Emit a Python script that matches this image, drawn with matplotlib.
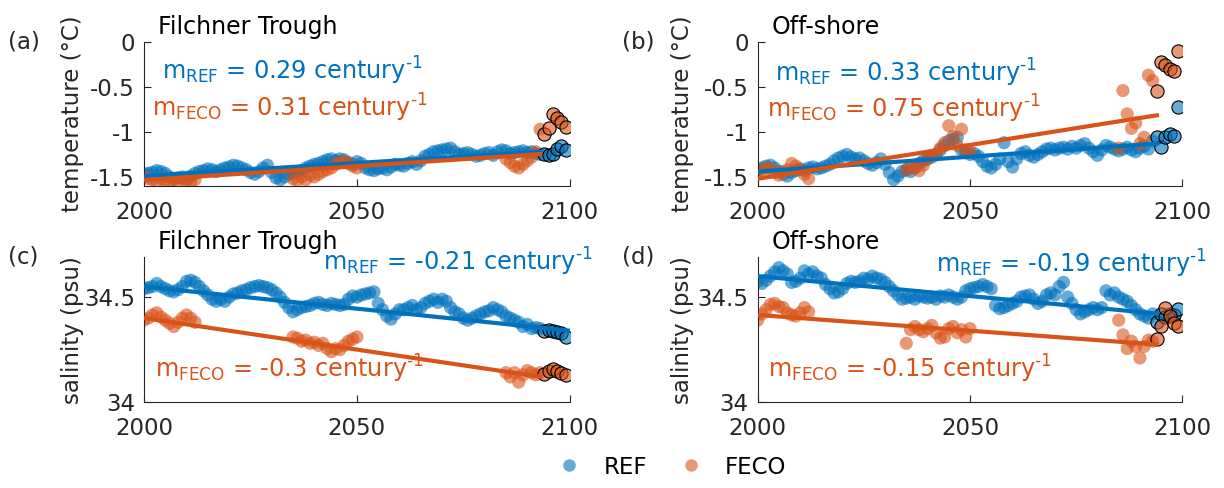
import numpy as np
import matplotlib
matplotlib.use("Agg")
import matplotlib.pyplot as plt

plt.rcParams['font.family'] = 'DejaVu Sans'
plt.rcParams['axes.unicode_minus'] = False
plt.rcParams['mathtext.fontset'] = 'dejavusans'

BLUE = '#0072BD'
ORANGE = '#D95319'
INK = '#262626'

years = np.arange(2000, 2100)
feco_years = np.concatenate([np.arange(2000, 2013), np.arange(2035, 2051), np.arange(2085, 2100)])
last_start = 2094  # last years drawn with black edge

# (a) Filchner Trough temperature
ref_temp_ft = [
    -1.47, -1.46, -1.45, -1.43, -1.44, -1.46, -1.50, -1.52, -1.51, -1.50,
    -1.52, -1.49, -1.46, -1.44, -1.43, -1.41, -1.42, -1.44, -1.42, -1.40,
    -1.39, -1.37, -1.38, -1.40, -1.42, -1.45, -1.47, -1.44, -1.40, -1.37,
    -1.45, -1.51, -1.53, -1.50, -1.47, -1.46, -1.44, -1.43, -1.40, -1.38,
    -1.36, -1.35, -1.33, -1.31, -1.30, -1.32, -1.30, -1.31, -1.34, -1.36,
    -1.33, -1.35, -1.40, -1.42, -1.43, -1.41, -1.40, -1.42, -1.39, -1.36,
    -1.37, -1.38, -1.35, -1.33, -1.36, -1.32, -1.27, -1.25, -1.22, -1.21,
    -1.20, -1.19, -1.18, -1.22, -1.25, -1.24, -1.23, -1.25, -1.27, -1.26,
    -1.24, -1.23, -1.26, -1.22, -1.20, -1.21, -1.24, -1.23, -1.22, -1.21,
    -1.23, -1.22, -1.24, -1.25, -1.24, -1.26, -1.24, -1.19, -1.16, -1.20]
feco_temp_ft = [
    -1.50, -1.52, -1.53, -1.55, -1.52, -1.54, -1.56, -1.53, -1.55, -1.52, -1.54, -1.56, -1.53,
    -1.52, -1.54, -1.50, -1.53, -1.48, -1.50, -1.47, -1.44, -1.42, -1.40, -1.36, -1.34, -1.33, -1.35, -1.38, -1.40,
    -1.30, -1.34, -1.38, -1.40, -1.36, -1.32, -1.28, -1.22, -0.97, -1.02, -0.96, -0.80, -0.85, -0.89, -0.94]

# (b) Off-shore temperature
ref_temp_os = [
    -1.42, -1.40, -1.38, -1.37, -1.40, -1.44, -1.47, -1.49, -1.45, -1.43,
    -1.41, -1.43, -1.40, -1.39, -1.41, -1.40, -1.38, -1.36, -1.32, -1.29,
    -1.27, -1.25, -1.28, -1.30, -1.29, -1.32, -1.35, -1.37, -1.34, -1.30,
    -1.36, -1.45, -1.53, -1.49, -1.44, -1.42, -1.44, -1.40, -1.35, -1.32,
    -1.30, -1.28, -1.25, -1.20, -1.15, -1.10, -1.08, -1.06, -1.20, -1.23,
    -1.25, -1.24, -1.27, -1.33, -1.38, -1.40, -1.36, -1.30, -1.12, -1.33,
    -1.39, -1.30, -1.24, -1.22, -1.26, -1.28, -1.25, -1.22, -1.19, -1.18,
    -1.20, -1.18, -1.17, -1.19, -1.16, -1.18, -1.15, -1.13, -1.18, -1.22,
    -1.26, -1.20, -1.15, -1.17, -1.19, -1.21, -1.19, -1.17, -1.20, -1.22,
    -1.18, -1.16, -1.19, -1.10, -1.06, -1.17, -1.06, -1.02, -1.04, -0.72]
feco_temp_os = [
    -1.45, -1.43, -1.40, -1.41, -1.45, -1.48, -1.44, -1.42, -1.35, -1.38, -1.42, -1.47, -1.52,
    -1.42, -1.38, -1.40, -1.43, -1.37, -1.30, -1.26, -1.25, -1.18, -1.12, -0.93, -1.05, -1.15, -0.97, -1.20, -1.22,
    -1.18, -0.54, -0.80, -0.96, -0.90, -1.13, -1.06, -0.37, -0.43, -0.54, -0.22, -0.26, -0.30, -0.32, -0.10]

# (c) Filchner Trough salinity
ref_salt_ft = [
    34.540, 34.545, 34.550, 34.565, 34.550, 34.540, 34.530, 34.525, 34.535, 34.550,
    34.575, 34.580, 34.570, 34.550, 34.530, 34.510, 34.490, 34.480, 34.490, 34.480,
    34.500, 34.515, 34.520, 34.530, 34.535, 34.545, 34.550, 34.555, 34.550, 34.545,
    34.535, 34.520, 34.500, 34.475, 34.450, 34.430, 34.440, 34.450, 34.455, 34.460,
    34.470, 34.475, 34.465, 34.460, 34.470, 34.465, 34.460, 34.465, 34.490, 34.505,
    34.500, 34.510, 34.515, 34.520, 34.525, 34.470, 34.440, 34.410, 34.395, 34.420,
    34.440, 34.440, 34.450, 34.460, 34.440, 34.450, 34.470, 34.480, 34.490, 34.475,
    34.490, 34.480, 34.450, 34.430, 34.420, 34.400, 34.390, 34.400, 34.410, 34.420,
    34.430, 34.435, 34.450, 34.440, 34.430, 34.410, 34.400, 34.390, 34.380, 34.360,
    34.370, 34.350, 34.355, 34.350, 34.340, 34.345, 34.340, 34.335, 34.330, 34.310]
feco_salt_ft = [
    34.390, 34.400, 34.415, 34.425, 34.405, 34.390, 34.375, 34.360, 34.380, 34.400, 34.415, 34.400, 34.380,
    34.310, 34.305, 34.290, 34.295, 34.280, 34.285, 34.270, 34.280, 34.255, 34.240, 34.255, 34.250, 34.270, 34.290, 34.300, 34.310,
    34.140, 34.120, 34.140, 34.095, 34.130, 34.150, 34.140, 34.130, 34.140, 34.135, 34.150, 34.160, 34.150, 34.140, 34.130]

# (d) Off-shore salinity
ref_salt_os = [
    34.575, 34.565, 34.580, 34.600, 34.620, 34.640, 34.625, 34.610, 34.570, 34.575,
    34.590, 34.625, 34.610, 34.620, 34.600, 34.590, 34.560, 34.540, 34.520, 34.525,
    34.540, 34.565, 34.575, 34.570, 34.575, 34.590, 34.585, 34.600, 34.590, 34.585,
    34.570, 34.550, 34.530, 34.510, 34.490, 34.495, 34.500, 34.490, 34.505, 34.500,
    34.495, 34.500, 34.490, 34.505, 34.500, 34.510, 34.500, 34.490, 34.500, 34.530,
    34.540, 34.545, 34.550, 34.560, 34.550, 34.540, 34.460, 34.445, 34.450, 34.460,
    34.470, 34.480, 34.500, 34.505, 34.510, 34.490, 34.470, 34.480, 34.510, 34.520,
    34.510, 34.550, 34.570, 34.500, 34.470, 34.440, 34.420, 34.430, 34.440, 34.450,
    34.440, 34.450, 34.530, 34.510, 34.520, 34.500, 34.490, 34.480, 34.460, 34.440,
    34.420, 34.410, 34.400, 34.420, 34.380, 34.420, 34.405, 34.420, 34.415, 34.445]
feco_salt_os = [
    34.390, 34.420, 34.440, 34.465, 34.470, 34.455, 34.450, 34.425, 34.415, 34.410, 34.425, 34.450, 34.430,
    34.280, 34.345, 34.360, 34.345, 34.335, 34.350, 34.365, 34.330, 34.305, 34.310, 34.350, 34.360, 34.330, 34.345, 34.310, 34.350,
    34.390, 34.320, 34.255, 34.290, 34.265, 34.210, 34.265, 34.295, 34.290, 34.300, 34.360, 34.450, 34.410, 34.375, 34.360]

# trend lines: slope (per century), value at 2000, last year of line
trend_slope = {'a': (0.29, 0.31), 'b': (0.33, 0.75), 'c': (-0.21, -0.3), 'd': (-0.19, -0.15)}
trend_start = {'a': (-1.49, -1.535), 'b': (-1.44, -1.52), 'c': (34.55, 34.40), 'd': (34.60, 34.415)}
trend_end = {'a': (2093, 2093), 'b': (2094, 2094), 'c': (2100, 2093), 'd': (2094, 2094)}
slope_text = {'a': ('0.29', '0.31'), 'b': ('0.33', '0.75'), 'c': ('-0.21', '-0.3'), 'd': ('-0.19', '-0.15')}

panels = [
    ('a', 'Filchner Trough', ref_temp_ft, feco_temp_ft),
    ('b', 'Off-shore', ref_temp_os, feco_temp_os),
    ('c', 'Filchner Trough', ref_salt_ft, feco_salt_ft),
    ('d', 'Off-shore', ref_salt_os, feco_salt_os),
]
# axes boxes in figure fraction
boxes = {'a': [0.1176, 0.619, 0.348, 0.295], 'b': [0.619, 0.619, 0.347, 0.295],
         'c': [0.1176, 0.176, 0.348, 0.297], 'd': [0.619, 0.176, 0.347, 0.297]}
# text positions (axes fraction): REF label, FECO label
label_pos = {'a': ((0.042, 0.736), (0.02, 0.479)), 'b': ((0.042, 0.722), (0.022, 0.472)),
             'c': ((0.42, 0.91), (0.026, 0.166)), 'd': ((0.421, 0.897), (0.024, 0.166))}

fig = plt.figure(figsize=(12.24, 4.88), dpi=100)


def rgba(c, a):
    return matplotlib.colors.to_rgba(c, a)


for key, title, ref, feco in panels:
    ax = fig.add_axes(boxes[key])
    ref = np.array(ref)
    feco = np.array(feco)
    for x, y, col in [(years, ref, BLUE), (feco_years, feco, ORANGE)]:
        early = x < last_start
        ax.scatter(x[early], y[early], s=90, color=rgba(col, 0.6), edgecolors='none', zorder=2)
        ax.scatter(x[~early], y[~early], s=90, facecolors=rgba(col, 0.6), edgecolors='k',
                   linewidths=0.8, zorder=3)
    for i, col in enumerate([BLUE, ORANGE]):
        xl = np.array([2000, trend_end[key][i]])
        yl = trend_start[key][i] + trend_slope[key][i] * (xl - 2000) / 100
        ax.plot(xl, yl, color=col, lw=3, zorder=4)

    (rx, ry), (fx, fy) = label_pos[key]
    ax.text(rx, ry, r'm$_{\mathrm{REF}}$ = ' + slope_text[key][0] + r' century$^{\text{-1}}$',
            transform=ax.transAxes, color=BLUE, fontsize=17.3, va='baseline')
    ax.text(fx, fy, r'm$_{\mathrm{FECO}}$ = ' + slope_text[key][1] + r' century$^{\text{-1}}$',
            transform=ax.transAxes, color=ORANGE, fontsize=17.3, va='baseline')
    ax.text(0.032, 1.053, title, transform=ax.transAxes, fontsize=17, va='baseline', color='k')

    ax.set_xlim(2000, 2100)
    ax.set_xticks([2000, 2050, 2100])
    if key in 'ab':
        ax.set_ylim(-1.6, 0)
        ax.set_yticks([-1.5, -1, -0.5, 0])
        ax.set_yticklabels(['-1.5', '-1', '-0.5', '0'])
    else:
        ax.set_ylim(34, 34.69)
        ax.set_yticks([34, 34.5])
        ax.set_yticklabels(['34', '34.5'])
    for s in ['top', 'right']:
        ax.spines[s].set_visible(False)
    for s in ['left', 'bottom']:
        ax.spines[s].set_color(INK)
        ax.spines[s].set_linewidth(0.8)
    ax.tick_params(direction='in', length=5, width=0.8, color=INK, labelcolor=INK,
                   labelsize=16.5)
    ax.tick_params(axis='x', pad=10.5)
    ax.tick_params(axis='y', pad=6.5)

# panel letters and y labels
fig.text(8 / 1224, 1 - 42 / 488, '(a)', fontsize=16.5, va='center', color=INK)
fig.text(622 / 1224, 1 - 42 / 488, '(b)', fontsize=16.5, va='center', color=INK)
fig.text(8 / 1224, 1 - 257 / 488, '(c)', fontsize=16.5, va='center', color=INK)
fig.text(622 / 1224, 1 - 257 / 488, '(d)', fontsize=16.5, va='center', color=INK)
for xpix, ypix, lab in [(72, 114, 'temperature (°C)'), (683, 114, 'temperature (°C)'),
                        (72, 330, 'salinity (psu)'), (683, 330, 'salinity (psu)')]:
    fig.text(xpix / 1224, 1 - ypix / 488, lab, rotation=90, fontsize=16.5,
             ha='center', va='center', color=INK)

h1 = plt.Line2D([], [], ls='none', marker='o', markersize=9, color=rgba(BLUE, 0.6), markeredgecolor='none')
h2 = plt.Line2D([], [], ls='none', marker='o', markersize=9, color=rgba(ORANGE, 0.6), markeredgecolor='none')
fig.legend([h1, h2], ['REF', 'FECO'], loc='center', bbox_to_anchor=(0.549, 0.043), ncol=2,
           frameon=False, fontsize=16.5, handlelength=1, handletextpad=1.0, columnspacing=1.4)

fig.savefig('out.png', dpi=100)
